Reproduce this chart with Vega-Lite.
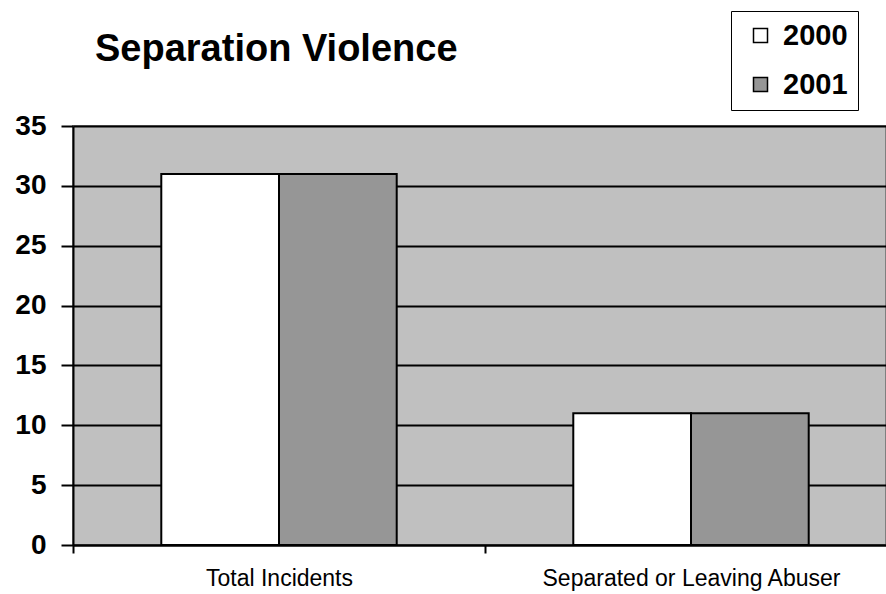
{
  "$schema": "https://vega.github.io/schema/vega-lite/v6.json",
  "autosize": {"type": "none"},
  "padding": {"left": 73, "top": 126, "right": 0, "bottom": 49},
  "width": 813,
  "height": 419,
  "background": "white",
  "title": {
    "text": "Separation Violence",
    "anchor": "start",
    "frame": "group",
    "orient": "top",
    "dx": 22,
    "dy": 88,
    "offset": 0,
    "baseline": "alphabetic",
    "font": "Liberation Sans",
    "fontSize": 38,
    "fontWeight": "bold",
    "color": "black"
  },
  "data": {
    "values": [
      {"category": "Total Incidents", "year": "2000", "value": 31},
      {"category": "Total Incidents", "year": "2001", "value": 31},
      {"category": "Separated or Leaving Abuser", "year": "2000", "value": 11},
      {"category": "Separated or Leaving Abuser", "year": "2001", "value": 11}
    ]
  },
  "mark": {"type": "bar", "stroke": "black", "strokeWidth": 2},
  "encoding": {
    "x": {
      "field": "category",
      "type": "nominal",
      "sort": ["Total Incidents", "Separated or Leaving Abuser"],
      "scale": {"range": [0, 824], "paddingInner": 0, "paddingOuter": 0},
      "axis": {
        "title": null,
        "labelAngle": 0,
        "labelLimit": 0,
        "tickBand": "extent",
        "domainColor": "black",
        "domainWidth": 2,
        "tickColor": "black",
        "tickWidth": 2,
        "tickSize": 8,
        "labelFont": "Liberation Sans",
        "labelFontSize": 23,
        "labelColor": "black",
        "labelPadding": 14,
        "grid": false
      }
    },
    "xOffset": {
      "field": "year",
      "type": "nominal",
      "scale": {"paddingOuter": 0.75, "paddingInner": 0}
    },
    "y": {
      "field": "value",
      "type": "quantitative",
      "scale": {"domain": [0, 35], "nice": false},
      "axis": {
        "title": null,
        "values": [0, 5, 10, 15, 20, 25, 30, 35],
        "grid": true,
        "gridColor": "black",
        "gridWidth": 2,
        "domainColor": "black",
        "domainWidth": 2,
        "tickColor": "black",
        "tickWidth": 2,
        "tickSize": 12,
        "labelFont": "Liberation Sans",
        "labelFontSize": 28,
        "labelFontWeight": "bold",
        "labelColor": "black",
        "labelPadding": 15
      }
    },
    "fill": {
      "field": "year",
      "type": "nominal",
      "scale": {"domain": ["2000", "2001"], "range": ["#ffffff", "#969696"]},
      "legend": {
        "title": null,
        "orient": "none",
        "legendX": 658,
        "legendY": -115,
        "direction": "vertical",
        "strokeColor": "black",
        "fillColor": "white",
        "padding": 10,
        "symbolType": "square",
        "symbolSize": 196,
        "symbolOffset": 5,
        "symbolStrokeColor": "black",
        "symbolStrokeWidth": 1.5,
        "symbolOpacity": 1,
        "labelFont": "Liberation Sans",
        "labelFontSize": 29,
        "labelFontWeight": "bold",
        "labelColor": "black",
        "labelOffset": 8,
        "labelExpr": "datum.label + '\u00a0\u00a0'",
        "rowPadding": 19
      }
    }
  },
  "config": {
    "view": {"fill": "#c0c0c0", "stroke": "#808080", "strokeWidth": 2}
  }
}
